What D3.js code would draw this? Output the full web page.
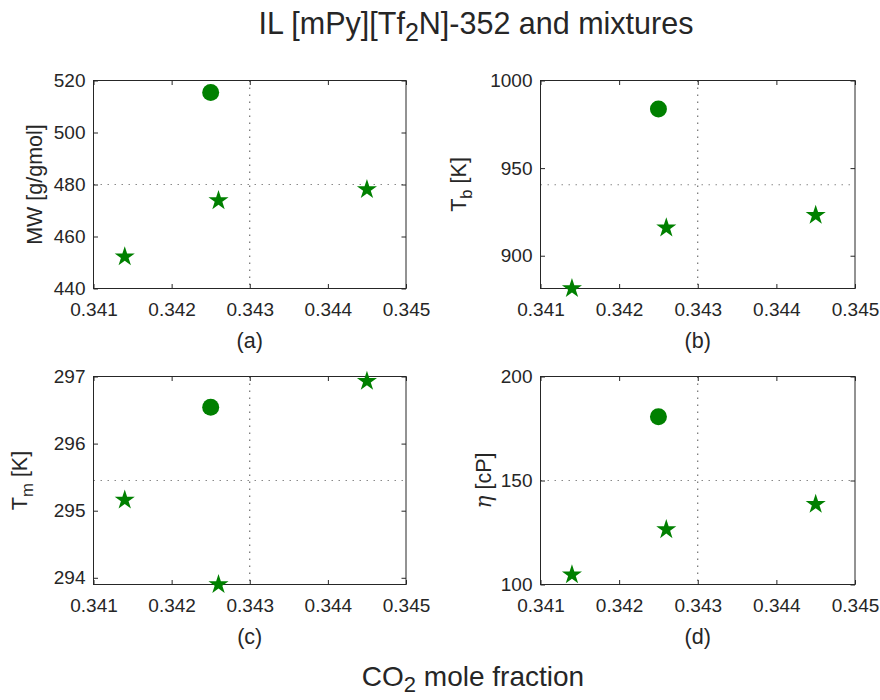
<!DOCTYPE html>
<html>
<head>
<meta charset="utf-8">
<script src="https://cdn.jsdelivr.net/npm/d3@7"></script>
<style>
  html, body { margin: 0; padding: 0; background: #fff; }
  svg { display: block; }
  text { font-family: "Liberation Sans", Arial, Helvetica, sans-serif; fill: #262626; }
</style>
</head>
<body>
<svg id="chart" width="880" height="700"></svg>
<script>
// ---------------- data ----------------
const xTicks = [0.341, 0.342, 0.343, 0.344, 0.345];
const xDomain = [0.341, 0.345];
const panelLetters = ["(a)", "(b)", "(c)", "(d)"];

// pure IL (circle) and mixtures (stars)
const ilX = [0.3425];
const mixX = [0.3414, 0.3426, 0.3445];

const mwIL = [515.4];
const mwMix = [452.2, 473.8, 478.1];
const tbIL = [983.8];
const tbMix = [881.3, 915.9, 923.1];
const tmIL = [296.54];
const tmMix = [295.16, 293.9, 296.93];
const etaIL = [180.7];
const etaMix = [104.7, 126.4, 138.6];

const mwTicks = [440, 460, 480, 500, 520];
const tbTicks = [900, 950, 1000];
const tmTicks = [294, 295, 296, 297];
const etaTicks = [100, 150, 200];

const mwDomain = [440, 520];
const tbDomain = [881.3, 1000];
const tmDomain = [293.9, 297];
const etaDomain = [100, 200];

// dotted reference lines
const refX = 0.343;
const refY = [480, 940.5, 295.45, 150];

// ---------------- layout ----------------
const svg = d3.select("#chart");
const green = "#008000";
const ink = "#262626";

const panels = [
  { box: [93.5, 80.5, 406, 288.5], ilY: mwIL, mixY: mwMix, ticks: mwTicks, dom: mwDomain, ref: refY[0],
    label: [{t: "MW [g/gmol]"}], labelX: -52 },
  { box: [540.5, 80.5, 855, 288.5], ilY: tbIL, mixY: tbMix, ticks: tbTicks, dom: tbDomain, ref: refY[1],
    label: [{t: "T"}, {t: "b", sub: true}, {t: " [K]"}], labelX: -75 },
  { box: [93.5, 376.5, 406, 584.5], ilY: tmIL, mixY: tmMix, ticks: tmTicks, dom: tmDomain, ref: refY[2],
    label: [{t: "T"}, {t: "m", sub: true}, {t: " [K]"}], labelX: -66.5 },
  { box: [540.5, 376.5, 855, 584.5], ilY: etaIL, mixY: etaMix, ticks: etaTicks, dom: etaDomain, ref: refY[3],
    label: [{t: "η", it: true}, {t: " [cP]"}], labelX: -50 }
];

const tickFont = 19, labelFont = 21.5, tickLen = 4.5;

panels.forEach((p, i) => {
  const [x0, y0, x1, y1] = p.box;
  const x = d3.scaleLinear().domain(xDomain).range([x0, x1]);
  const y = d3.scaleLinear().domain(p.dom).range([y1, y0]);
  const g = svg.append("g");

  // reference dotted lines
  g.append("line").attr("x1", x(refX)).attr("x2", x(refX)).attr("y1", y0).attr("y2", y1)
    .attr("stroke", "#555").attr("stroke-width", 1).attr("stroke-dasharray", "1.5,5.5");
  g.append("line").attr("x1", x0).attr("x2", x1).attr("y1", y(p.ref)).attr("y2", y(p.ref))
    .attr("stroke", "#8a8a8a").attr("stroke-width", 1).attr("stroke-dasharray", "1.5,5.5");

  // axes via d3 axis generators (ticks inward)
  const fmtX = d3.format(".3f");
  const bottom = g.append("g").attr("transform", `translate(0,${y1})`)
    .call(d3.axisBottom(x).tickValues(xTicks).tickFormat(fmtX).tickSizeInner(-tickLen).tickSizeOuter(0).tickPadding(14));
  const top = g.append("g").attr("transform", `translate(0,${y0})`)
    .call(d3.axisTop(x).tickValues(xTicks).tickFormat("").tickSizeInner(-tickLen).tickSizeOuter(0));
  const left = g.append("g").attr("transform", `translate(${x0},0)`)
    .call(d3.axisLeft(y).tickValues(p.ticks).tickFormat(d3.format("d")).tickSizeInner(-tickLen).tickSizeOuter(0).tickPadding(8));
  const right = g.append("g").attr("transform", `translate(${x1},0)`)
    .call(d3.axisRight(y).tickValues(p.ticks).tickFormat("").tickSizeInner(-tickLen).tickSizeOuter(0));
  [bottom, top, left, right].forEach(a => {
    a.select(".domain").remove();
    a.selectAll("line").attr("stroke", ink);
    a.selectAll("text").attr("font-size", tickFont).attr("fill", ink)
      .attr("font-family", "Liberation Sans, Arial, sans-serif");
  });
  bottom.selectAll("text").attr("dy", "0.71em");

  // box
  g.append("rect").attr("x", x0).attr("y", y0).attr("width", x1 - x0).attr("height", y1 - y0)
    .attr("fill", "none").attr("stroke", ink).attr("stroke-width", 1);

  // y label
  const cy = (y0 + y1) / 2;
  const lt = g.append("text").attr("transform", `translate(${x0 + p.labelX},${cy}) rotate(-90)`)
    .attr("text-anchor", "middle").attr("font-size", labelFont);
  p.label.forEach((s, k) => {
    const ts = lt.append("tspan").text(s.t);
    if (s.sub) ts.attr("font-size", labelFont * 0.78).attr("dy", 6);
    if (s.it) ts.attr("font-family", "DejaVu Serif, serif").attr("font-style", "italic");
    if (!s.sub && k > 0 && p.label[k - 1].sub) ts.attr("dy", -6);
  });

  // panel letter
  g.append("text").attr("x", (x0 + x1) / 2).attr("y", y1 + 59).attr("text-anchor", "middle")
    .attr("font-size", labelFont).text(panelLetters[i]);

  // markers
  g.selectAll("circle.il").data(p.ilY).join("circle").attr("class", "il")
    .attr("cx", (d, k) => x(ilX[k])).attr("cy", d => y(d)).attr("r", 8.5).attr("fill", green);
  const star = d3.symbol().type(d3.symbolStar).size(125);
  g.selectAll("path.mix").data(p.mixY).join("path").attr("class", "mix")
    .attr("transform", (d, k) => `translate(${x(mixX[k])},${y(d)})`).attr("d", star).attr("fill", green);
});

// title
const title = svg.append("text").attr("x", 476).attr("y", 34).attr("text-anchor", "middle").attr("font-size", 30.5);
title.append("tspan").text("IL [mPy][Tf");
title.append("tspan").text("2").attr("font-size", 25).attr("dy", 7);
title.append("tspan").text("N]-352 and mixtures").attr("dy", -7);

// x label
const xl = svg.append("text").attr("x", 473).attr("y", 686).attr("text-anchor", "middle").attr("font-size", 28);
xl.append("tspan").text("CO");
xl.append("tspan").text("2").attr("font-size", 22).attr("dy", 6);
xl.append("tspan").text(" mole fraction").attr("dy", -6);
</script>
</body>
</html>
